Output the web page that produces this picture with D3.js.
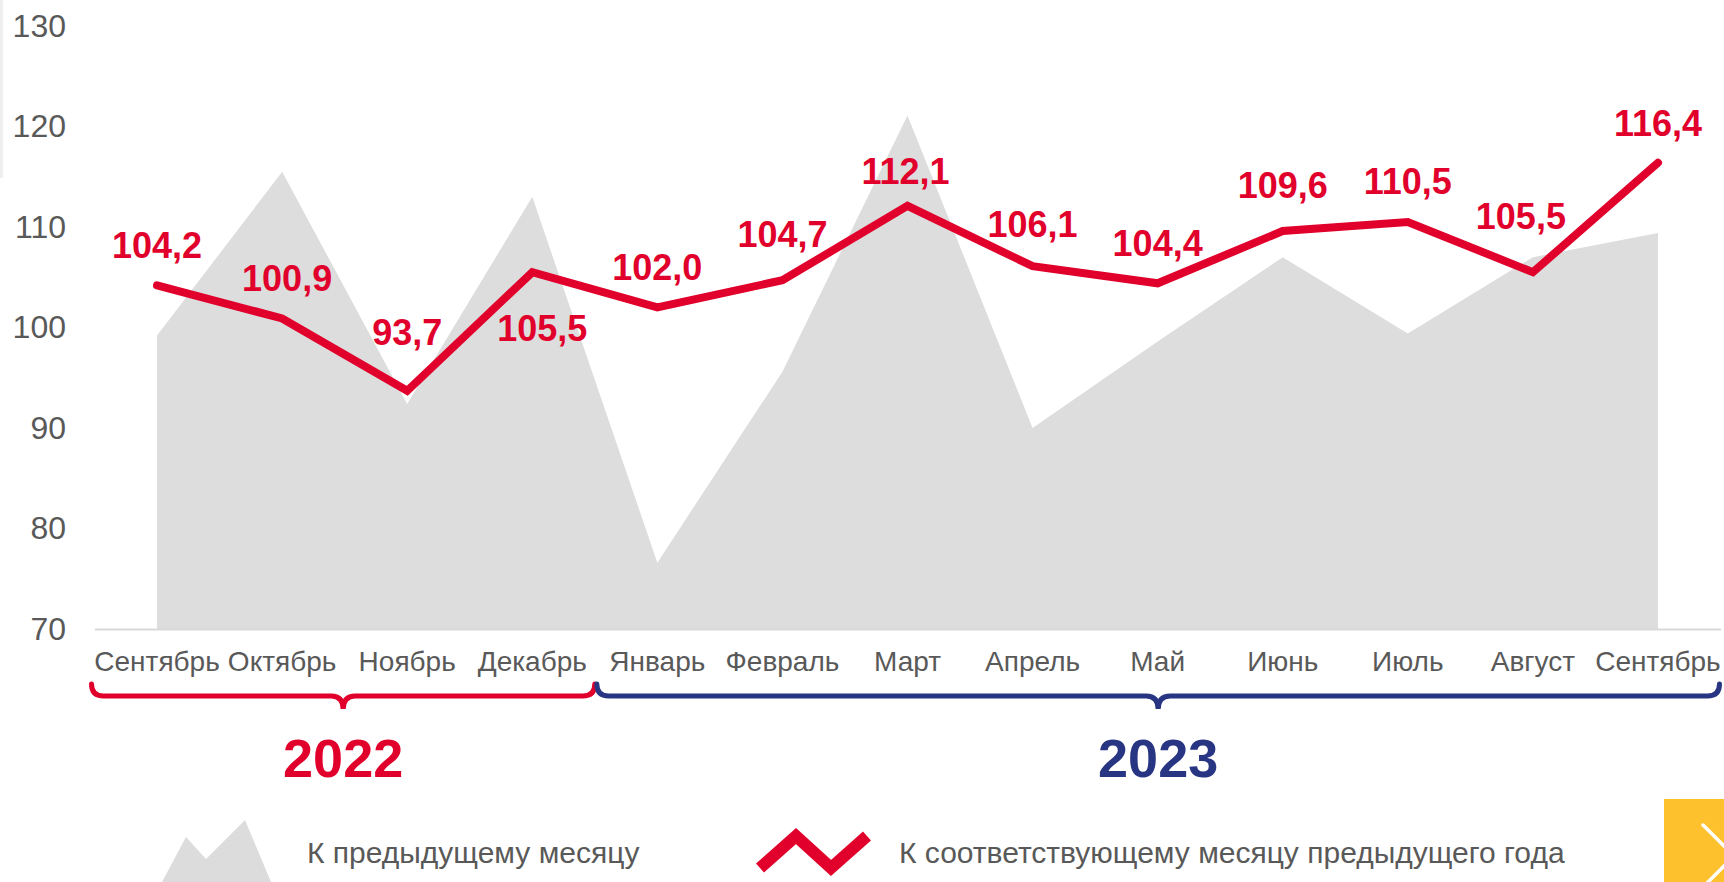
<!DOCTYPE html>
<html>
<head>
<meta charset="utf-8">
<script src="https://cdn.jsdelivr.net/npm/d3@7"></script>
<style>
  body { margin: 0; background: #fff; }
  text { font-family: "Liberation Sans", Arial, sans-serif; }
</style>
</head>
<body>
<svg id="chart" width="1724" height="882"></svg>
<script>
var months = ["Сентябрь", "Октябрь", "Ноябрь", "Декабрь", "Январь", "Февраль", "Март", "Апрель", "Май", "Июнь", "Июль", "Август", "Сентябрь"];
var prevMonth = [99.2, 115.5, 92.4, 113.0, 76.6, 95.6, 121.1, 90.0, 98.6, 107.0, 99.4, 107.0, 109.4];
var prevYear = [104.2, 100.9, 93.7, 105.5, 102.0, 104.7, 112.1, 106.1, 104.4, 109.6, 110.5, 105.5, 116.4];
var yTicks = [70, 80, 90, 100, 110, 120, 130];
var yearLabels = ["2022", "2023"];
var yearFirst = [0, 4];
var yearLast = [3, 12];
var legendLabels = ["К предыдущему месяцу", "К соответствующему месяцу предыдущего года"];

// label nudges (px), so labels clear the line like in the original
var labelDx = [0, 5, 0, 10, 0, 0, -2, 0, 0, 0, 0, -12, 0];
var labelDy = [-40, -40, -59, 56, -40, -46, -35, -42, -40, -46, -41, -56, -40];

var red = "#e1002b", blue = "#283583", grey = "#595959";

var svg = d3.select("#chart"),
    margin = {top: 26, right: 3.5, bottom: 253, left: 94.5},
    width = +svg.attr("width"),
    height = +svg.attr("height");

var idx = d3.range(months.length);

var x = d3.scaleBand()
    .domain(idx)
    .range([margin.left, width - margin.right])
    .padding(0);

var y = d3.scaleLinear()
    .domain([70, 130])
    .range([height - margin.bottom, margin.top]);

function cx(i) { return x(i) + x.bandwidth() / 2; }

// thin strip at left edge
svg.append("rect")
    .attr("x", 0).attr("y", 0)
    .attr("width", 3).attr("height", 178)
    .attr("fill", "#efefef");

// grey area
var area = d3.area()
    .x(function(d, i) { return cx(i); })
    .y0(y(70))
    .y1(function(d) { return y(d); });

svg.append("path")
    .datum(prevMonth)
    .attr("fill", "#dddddd")
    .attr("d", area);

// x axis
var xAxis = svg.append("g")
    .attr("transform", "translate(0," + y(70) + ")")
    .call(d3.axisBottom(x).tickSize(0).tickPadding(22).tickFormat(function(i) { return months[i]; }));

xAxis.select(".domain").attr("stroke", "#d9d9d9").attr("stroke-width", 2);
xAxis.selectAll("text")
    .attr("fill", grey)
    .style("font-size", "28px")
    .style("font-family", "'Liberation Sans', Arial, sans-serif");

// y axis
var yAxis = svg.append("g")
    .attr("transform", "translate(72,0)")
    .call(d3.axisLeft(y).tickValues(yTicks).tickSize(0).tickPadding(6));

yAxis.select(".domain").remove();
yAxis.selectAll("text")
    .attr("fill", grey)
    .style("font-size", "32px")
    .style("font-family", "'Liberation Sans', Arial, sans-serif");

// red line
var line = d3.line()
    .x(function(d, i) { return cx(i); })
    .y(function(d) { return y(d); });

svg.append("path")
    .datum(prevYear)
    .attr("fill", "none")
    .attr("stroke", red)
    .attr("stroke-width", 8)
    .attr("stroke-linecap", "round")
    .attr("stroke-linejoin", "miter")
    .attr("d", line);

// value labels
svg.append("g")
  .selectAll("text")
  .data(prevYear)
  .enter().append("text")
    .attr("x", function(d, i) { return cx(i) + labelDx[i]; })
    .attr("y", function(d, i) { return y(d) + labelDy[i] + 13; })
    .attr("text-anchor", "middle")
    .attr("fill", red)
    .style("font-size", "36px")
    .style("font-weight", "bold")
    .text(function(d) { return d3.format(".1f")(d).replace(".", ","); });

// year braces
function brace(x0, x1) {
  var y0 = 684, y1 = 696, y2 = 709, r = 12, xm = (x0 + x1) / 2;
  return "M" + x0 + "," + y0 +
    " Q" + x0 + "," + y1 + " " + (x0 + r) + "," + y1 +
    " L" + (xm - r) + "," + y1 +
    " Q" + xm + "," + y1 + " " + xm + "," + y2 +
    " Q" + xm + "," + y1 + " " + (xm + r) + "," + y1 +
    " L" + (x1 - r) + "," + y1 +
    " Q" + x1 + "," + y1 + " " + x1 + "," + y0;
}

var yearColors = [red, blue];

yearLabels.forEach(function(lab, k) {
  var x0 = x(yearFirst[k]) + (k == 0 ? -3 : 2),
      x1 = x(yearLast[k]) + x.bandwidth() - (k == 0 ? 0 : 1);
  svg.append("path")
      .attr("d", brace(x0, x1))
      .attr("fill", "none")
      .attr("stroke", yearColors[k])
      .attr("stroke-width", 5)
      .attr("stroke-linecap", "round");
  svg.append("text")
      .attr("x", (x0 + x1) / 2)
      .attr("y", 777)
      .attr("text-anchor", "middle")
      .attr("fill", yearColors[k])
      .style("font-size", "54px")
      .style("font-weight", "bold")
      .text(lab);
});

// legend
svg.append("path")
    .attr("d", "M162,882 L186,837 L206,859 L245,820 L271,882 Z")
    .attr("fill", "#dcdcdc");

svg.append("text")
    .attr("x", 307).attr("y", 863)
    .attr("fill", grey)
    .style("font-size", "30px")
    .text(legendLabels[0]);

svg.append("path")
    .attr("d", "M760,868 L796,836 L831,868 L867,836")
    .attr("fill", "none")
    .attr("stroke", red)
    .attr("stroke-width", 12)
    .attr("stroke-linejoin", "miter");

svg.append("text")
    .attr("x", 899).attr("y", 863)
    .attr("fill", grey)
    .style("font-size", "30px")
    .text(legendLabels[1]);

// yellow "next" button in the corner
svg.append("rect")
    .attr("x", 1664).attr("y", 799)
    .attr("width", 60).attr("height", 83)
    .attr("fill", "#fdc12e");

svg.append("path")
    .attr("d", "M1703,825 L1734,856 L1703,887")
    .attr("fill", "none")
    .attr("stroke", "#fff")
    .attr("stroke-width", 3.5)
    .attr("stroke-linecap", "round");
</script>
</body>
</html>
